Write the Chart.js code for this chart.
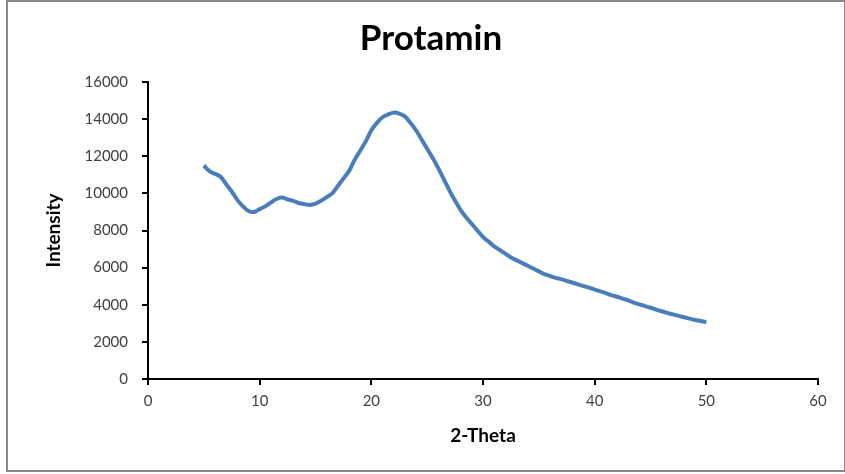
<!DOCTYPE html>
<html>
<head>
<meta charset="utf-8">
<script src="https://cdn.jsdelivr.net/npm/chart.js@4.4.0/dist/chart.umd.min.js"></script>
<style>
  html, body { margin: 0; padding: 0; background: #ffffff; }
  #wrap { width: 845px; height: 474px; position: relative; }
</style>
</head>
<body>
<div id="wrap"><canvas id="c" width="845" height="474"></canvas></div>
<script>
const twoTheta = [5,5.5,6,6.5,7,7.5,8,8.5,9,9.5,10,10.5,11,11.5,12,12.5,13,13.5,14,14.5,15,15.5,16,16.5,17,17.5,18,18.5,19,19.5,20,20.5,21,21.5,22,22.5,23,23.5,24,24.5,25,25.5,26,26.5,27,27.5,28,28.5,29,29.5,30,30.5,31,31.5,32,32.5,33,33.5,34,34.5,35,35.5,36,36.5,37,37.5,38,38.5,39,39.5,40,40.5,41,41.5,42,42.5,43,43.5,44,44.5,45,45.5,46,46.5,47,47.5,48,48.5,49,49.5,50];
const intensity = [11500,11200,11050,10900,10500,10100,9650,9300,9050,9000,9150,9300,9500,9700,9780,9680,9600,9480,9420,9380,9450,9600,9800,10000,10400,10800,11200,11800,12300,12800,13400,13800,14100,14250,14350,14300,14150,13800,13400,12900,12400,11900,11350,10750,10150,9600,9100,8700,8350,8000,7650,7400,7150,6950,6750,6550,6400,6250,6100,5950,5800,5650,5550,5450,5380,5280,5200,5100,5000,4920,4820,4720,4630,4520,4430,4330,4240,4120,4020,3930,3840,3740,3650,3560,3480,3400,3330,3250,3180,3120,3070];
const xTicks = [0,10,20,30,40,50,60];
const yTicks = [0,2000,4000,6000,8000,10000,12000,14000,16000];
const chartTitle = "Protamin";
const xTitle = "2-Theta";
const yTitle = "Intensity";

const points = twoTheta.map((x, i) => ({x: x, y: intensity[i]}));

const framePlugin = {
  id: 'frame',
  beforeDraw(chart) {
    const ctx = chart.ctx;
    ctx.save();
    ctx.fillStyle = '#ffffff';
    ctx.fillRect(0, 0, chart.width, chart.height);
    ctx.strokeStyle = '#888888';
    ctx.lineWidth = 2;
    ctx.strokeRect(7, 1, 838, 470);
    ctx.restore();
  }
};

new Chart(document.getElementById('c'), {
  type: 'scatter',
  data: {
    datasets: [{
      data: points,
      showLine: true,
      borderColor: '#4A7EBB',
      backgroundColor: '#4A7EBB',
      borderWidth: 4,
      pointRadius: 0,
      tension: 0.3
    }]
  },
  options: {
    responsive: false,
    animation: false,
    devicePixelRatio: 1,
    layout: { padding: { left: 44, right: 27, top: 0, bottom: 0 } },
    plugins: {
      legend: { display: false },
      tooltip: { enabled: false },
      title: {
        display: true,
        text: chartTitle,
        color: '#000000',
        font: { family: 'Lato', size: 35, weight: 'bold' },
        padding: { top: 18, bottom: 22 }
      }
    },
    scales: {
      x: {
        type: 'linear',
        min: 0, max: 60,
        afterBuildTicks(scale) { scale.ticks = xTicks.map(v => ({value: v})); },
        afterFit(scale) { scale.height = 474 - 379; },
        border: { display: true, color: '#000000', width: 2 },
        grid: { drawOnChartArea: false, drawTicks: true, tickLength: 6, color: '#000000', lineWidth: 2 },
        ticks: { color: '#404040', font: { family: 'Lato', size: 15 }, padding: 7, maxRotation: 0 },
        title: { display: true, text: xTitle, color: '#000000', font: { family: 'Lato', size: 19, weight: 'bold' }, padding: { top: 0, bottom: 27 } }
      },
      y: {
        type: 'linear',
        min: 0, max: 16000,
        afterBuildTicks(scale) { scale.ticks = yTicks.map(v => ({value: v})); },
        afterFit(scale) { scale.width = 148 - 44; },
        border: { display: true, color: '#000000', width: 2 },
        grid: { drawOnChartArea: false, drawTicks: true, tickLength: 6, color: '#000000', lineWidth: 2 },
        ticks: { color: '#404040', font: { family: 'Lato', size: 15 }, padding: 14, callback: v => String(v) },
        title: { display: true, text: yTitle, color: '#000000', font: { family: 'Lato', size: 19, weight: 'bold' }, padding: { top: -2, bottom: 0 } }
      }
    }
  },
  plugins: [framePlugin]
});
</script>
</body>
</html>
